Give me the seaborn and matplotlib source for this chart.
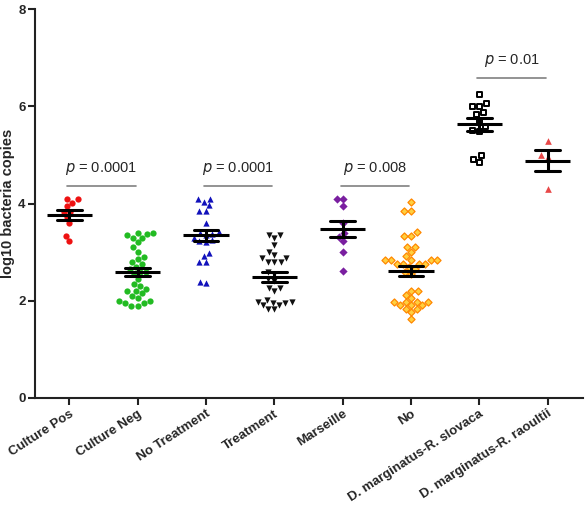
import numpy as np
import pandas as pd
import matplotlib
matplotlib.use('Agg')
import matplotlib.pyplot as plt
import seaborn as sns

groups = ['Culture Pos', 'Culture Neg', 'No Treatment', 'Treatment', 'Marseille', 'No',
          'D. marginatus-R. slovaca', 'D. marginatus-R. raoultii']

culture_pos = [4.09, 4.09, 4.01, 3.94, 3.83, 3.83, 3.72, 3.60, 3.33, 3.22]
culture_neg = [3.4, 3.4, 3.38, 3.35, 3.3, 3.3, 3.2, 3.1, 3.0, 2.9, 2.85, 2.8, 2.75, 2.7, 2.65,
               2.6, 2.6, 2.55, 2.45, 2.35, 2.3, 2.25, 2.2, 2.2, 2.15, 2.1, 2.05, 2.0, 2.0,
               1.95, 1.95, 1.9, 1.9]
no_treatment = [4.09, 4.09, 4.03, 3.96, 3.85, 3.85, 3.59, 3.42, 3.4, 3.38, 3.35, 3.3, 3.25,
                3.22, 3.2, 2.98, 2.91, 2.79, 2.79, 2.36, 2.39]
treatment = [3.35, 3.35, 3.29, 3.15, 3.01, 2.94, 2.87, 2.87, 2.8, 2.8, 2.8, 2.6, 2.55, 2.45,
             2.4, 2.26, 2.26, 2.19, 2.02, 1.98, 1.98, 1.95, 1.95, 1.91, 1.91, 1.82, 1.82]
marseille = [4.09, 4.09, 3.95, 3.59, 3.40, 3.32, 3.22, 3.0, 2.62]
no_group = [4.03, 3.85, 3.85, 3.41, 3.34, 3.34, 3.11, 3.11, 3.01, 2.91, 2.83, 2.83, 2.83,
            2.83, 2.83, 2.76, 2.76, 2.76, 2.76, 2.70, 2.65, 2.6, 2.55, 2.19, 2.19, 2.12,
            2.05, 1.98, 1.98, 1.98, 1.98, 1.91, 1.91, 1.91, 1.84, 1.84, 1.77, 1.62]
slovaca = [6.26, 6.06, 6.01, 6.01, 5.89, 5.85, 5.72, 5.6, 5.51, 5.5, 5.0, 4.91, 4.86]
raoultii = [5.29, 4.99, 4.95, 4.29]

values = [culture_pos, culture_neg, no_treatment, treatment, marseille, no_group, slovaca, raoultii]

# marker styles per group: (marker, face, edge, size, edge width)
styles = [('o', '#ee1111', '#ee1111', 4.5, 0),
          ('o', '#22bb22', '#22bb22', 4.5, 0),
          ('^', '#1111bb', '#1111bb', 4.5, 0),
          ('v', '#111111', '#111111', 4.5, 0),
          ('D', '#7a1fa0', '#7a1fa0', 4.2, 0),
          ('D', '#ffd040', '#ff8800', 3.6, 0.9),
          ('s', 'white', '#000000', 3.6, 1.4),
          ('^', '#e84848', '#e84848', 4.8, 0)]

pvals = [(0, 1, ' = 0.0001', 4.36), (2, 3, ' = 0.0001', 4.36),
         (4, 5, ' = 0.008', 4.36), (6, 7, ' = 0.01', 6.58)]

df = pd.DataFrame({'group': np.repeat(groups, [len(v) for v in values]),
                   'value': np.concatenate(values)})

sns.set_style('ticks')
plt.rcParams['font.family'] = ['Liberation Sans', 'DejaVu Sans']

fig = plt.figure(figsize=(5.85, 5.05), dpi=100)
ax = fig.add_axes([0.06, 0.212, 0.937, 0.770])

for g, (m, fc, ec, sz, lw) in zip(groups, styles):
    sub = df[df['group'] == g]
    sns.swarmplot(data=sub, x='group', y='value', order=groups, marker=m, color=fc,
                  edgecolor=ec, linewidth=lw, size=sz, ax=ax, zorder=2)

# SEM error bars
sns.pointplot(data=df, x='group', y='value', order=groups, errorbar='se', capsize=0.36,
              linestyle='none', markers='', color='black', err_kws={'linewidth': 2.2},
              ax=ax, zorder=4)

# mean lines
means = df.groupby('group')['value'].mean().reindex(groups).values
ax.hlines(means, np.arange(len(groups)) - 0.33, np.arange(len(groups)) + 0.33,
          color='black', linewidth=2.2, zorder=5)

for a, b, txt, y in pvals:
    ax.plot([a - 0.03, b - 0.03], [y, y], color='#808080', linewidth=1.2)
    ax.text((a + b) / 2 - 0.03, y + 0.18, r'$\it{p}$' + txt, ha='center', va='bottom',
            fontsize=10.5)

ax.set_xlim(-0.5, 7.52)
ax.set_ylim(0, 8)
ax.set_yticks([0, 2, 4, 6, 8])
ax.set_xlabel('')
ax.set_ylabel('log10 bacteria copies', fontsize=10.5, fontweight='bold', labelpad=2)
ax.set_xticks(range(len(groups)))
ax.set_xticklabels(groups, rotation=33, ha='right', rotation_mode='anchor',
                   fontsize=9.5, fontweight='bold')
for lab in ax.get_yticklabels():
    lab.set_fontweight('bold')
    lab.set_fontsize(9.5)
ax.tick_params(axis='both', width=1.5, length=5, color='#222222', pad=2)
sns.despine(ax=ax)
for s in ['left', 'bottom']:
    ax.spines[s].set_linewidth(1.5)
    ax.spines[s].set_color('#222222')

fig.savefig('out.png', dpi=100)
